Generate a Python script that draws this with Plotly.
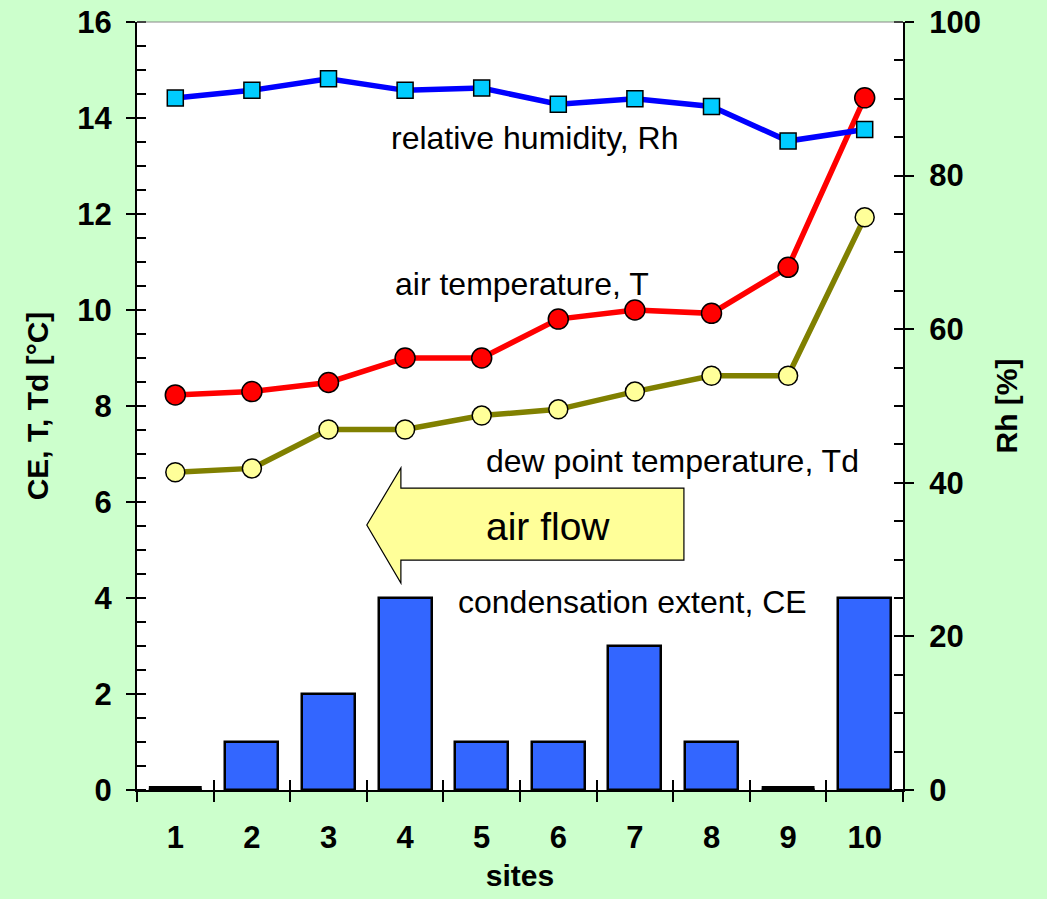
import plotly.graph_objects as go

# Site data
sites = [1, 2, 3, 4, 5, 6, 7, 8, 9, 10]
ce = [0, 1, 2, 4, 1, 1, 3, 1, 0, 4]                       # condensation extent
air_t = [8.23, 8.30, 8.49, 9.0, 9.0, 9.81, 10.0, 9.93, 10.89, 14.42]   # T [°C]
dew_t = [6.62, 6.70, 7.51, 7.51, 7.80, 7.93, 8.30, 8.63, 8.63, 11.93]  # Td [°C]
rh = [90.1, 91.1, 92.6, 91.1, 91.4, 89.3, 90.0, 89.0, 84.5, 86.0]      # Rh [%]

left_ticks = [0, 2, 4, 6, 8, 10, 12, 14, 16]
right_ticks = [0, 20, 40, 60, 80, 100]

FONT = "Liberation Sans, Arial, sans-serif"
BAR_W = 0.69
x_range = [0.5, 10.5]
bounds = [s - 0.5 for s in sites] + [sites[-1] + 0.5]

fig = go.Figure()

# Condensation extent bars
fig.add_trace(go.Bar(
    x=sites, y=ce, width=BAR_W,
    marker=dict(color="#3366ff", line=dict(color="black", width=2.5)),
    xaxis="x", yaxis="y", showlegend=False,
))
# zero-height bars still show their outline as a flat line
for s, v in zip(sites, ce):
    if v == 0:
        fig.add_trace(go.Scatter(
            x=[s - BAR_W / 2, s + BAR_W / 2], y=[v, v], mode="lines",
            line=dict(color="black", width=8), cliponaxis=False,
            xaxis="x", yaxis="y", showlegend=False, hoverinfo="skip",
        ))

# Dew point temperature
fig.add_trace(go.Scatter(
    x=sites, y=dew_t, mode="lines+markers",
    line=dict(color="#808000", width=5.5),
    marker=dict(symbol="circle", size=19, color="#ffff99",
                line=dict(color="black", width=1.5)),
    xaxis="x", yaxis="y", showlegend=False, cliponaxis=False,
))
# Air temperature
fig.add_trace(go.Scatter(
    x=sites, y=air_t, mode="lines+markers",
    line=dict(color="#ff0000", width=5.5),
    marker=dict(symbol="circle", size=20, color="#ff0000",
                line=dict(color="black", width=1.5)),
    xaxis="x", yaxis="y", showlegend=False, cliponaxis=False,
))
# Relative humidity on the right axis
fig.add_trace(go.Scatter(
    x=sites, y=rh, mode="lines+markers",
    line=dict(color="#0000ff", width=5.5),
    marker=dict(symbol="square", size=16, color="#00ccff",
                line=dict(color="black", width=1.5)),
    xaxis="x", yaxis="y2", showlegend=False, cliponaxis=False,
))

# empty traces that carry the inner halves of the crossing ticks
fig.add_trace(go.Scatter(x=[None], y=[None], xaxis="x2", yaxis="y3",
                         showlegend=False, hoverinfo="skip"))
fig.add_trace(go.Scatter(x=[None], y=[None], xaxis="x2", yaxis="y4",
                         showlegend=False, hoverinfo="skip"))

tick_font = dict(family=FONT, size=31, color="black", weight="bold")
title_font = dict(family=FONT, size=30, color="black", weight="bold")

fig.update_layout(
    width=1047, height=899,
    margin=dict(l=137, r=144, t=22, b=109),
    paper_bgcolor="#ccffcc",
    plot_bgcolor="white",
    bargap=0,
    xaxis=dict(
        range=x_range, tickvals=sites, ticktext=[str(s) for s in sites],
        ticks="", ticklabelstandoff=19, tickfont=tick_font,
        showline=True, linecolor="black", linewidth=2, mirror=False,
        showgrid=False, zeroline=False, automargin=False,
        minor=dict(tickvals=bounds, ticks="outside", ticklen=10,
                   tickwidth=2, tickcolor="black", showgrid=False),
        title=dict(text="sites", font=title_font, standoff=11),
    ),
    xaxis2=dict(
        range=x_range, overlaying="x", anchor="y3", side="bottom",
        tickvals=bounds, ticks="inside", ticklen=10, tickwidth=2,
        tickcolor="black", showticklabels=False, showline=False,
        showgrid=False, zeroline=False, automargin=False,
    ),
    yaxis=dict(
        range=[0, 16], tickvals=left_ticks, ticks="outside", ticklen=9,
        tickwidth=2, tickcolor="black", tickfont=tick_font,
        ticklabelstandoff=8, automargin=False,
        showline=True, linecolor="black", linewidth=2,
        showgrid=False, zeroline=False,
        minor=dict(dtick=0.5, ticks="inside", ticklen=9, tickwidth=2,
                   tickcolor="black", showgrid=False),
        title=dict(text="CE, T, Td [°C]", font=title_font, standoff=20),
    ),
    yaxis2=dict(
        range=[0, 100], tickvals=right_ticks, overlaying="y", side="right",
        anchor="x", ticks="outside", ticklen=9, tickwidth=2,
        tickcolor="black", tickfont=tick_font, ticklabelstandoff=9,
        showline=True, linecolor="black", linewidth=2, automargin=False,
        showgrid=False, zeroline=False,
        minor=dict(dtick=5, ticks="inside", ticklen=9, tickwidth=2,
                   tickcolor="black", showgrid=False),
        title=dict(text="Rh [%]", font=title_font, standoff=16),
    ),
    yaxis3=dict(
        range=[0, 16], tickvals=left_ticks, overlaying="y", side="left",
        anchor="x2", ticks="inside", ticklen=9, tickwidth=2,
        tickcolor="black", showticklabels=False, showline=False,
        showgrid=False, zeroline=False, automargin=False,
    ),
    yaxis4=dict(
        range=[0, 100], tickvals=right_ticks, overlaying="y", side="right",
        anchor="x2", ticks="inside", ticklen=9, tickwidth=2,
        tickcolor="black", showticklabels=False, showline=False,
        showgrid=False, zeroline=False, automargin=False,
    ),
)

# thin frame line along the top of the plot area
fig.add_shape(type="line", xref="paper", yref="paper", x0=0, x1=1, y0=1, y1=1,
              line=dict(color="#888888", width=1))

# "air flow" arrow pointing toward site 1
arrow_path = ("M 3.50 5.52 L 3.945 6.71 L 3.945 6.29 L 7.64 6.29 "
              "L 7.64 4.79 L 3.945 4.79 L 3.945 4.31 Z")
fig.add_shape(type="path", xref="x", yref="y", path=arrow_path,
              fillcolor="#ffff99", line=dict(color="black", width=1.2),
              layer="below")

label_font = dict(family=FONT, size=32, color="black")
labels = [
    ("relative humidity, Rh", 3.79, 13.59),
    ("air temperature, T", 3.84, 10.54),
    ("dew point temperature, Td", 5.03, 6.85),
    ("condensation extent, CE", 4.66, 3.91),
]
for text, lx, ly in labels:
    fig.add_annotation(x=lx, y=ly, xref="x", yref="y", text=text,
                       showarrow=False, xanchor="left", yanchor="middle",
                       font=label_font)
fig.add_annotation(x=5.87, y=5.50, xref="x", yref="y", text="air flow",
                   showarrow=False, xanchor="center", yanchor="middle",
                   font=dict(family=FONT, size=39, color="black"))

fig.write_html("out.html")
